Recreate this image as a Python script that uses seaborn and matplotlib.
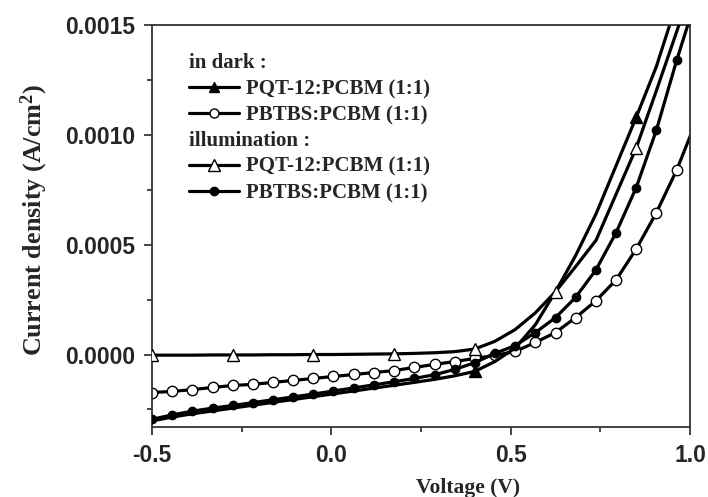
import matplotlib
matplotlib.use("Agg")
import matplotlib.pyplot as plt
from matplotlib.lines import Line2D
from matplotlib.ticker import FixedLocator, FormatStrFormatter
import seaborn as sns

# ---- data ----
voltage = [-0.500, -0.444, -0.388, -0.331, -0.275, -0.219, -0.163, -0.106,
           -0.050, 0.006, 0.063, 0.119, 0.175, 0.231, 0.288, 0.344,
           0.400, 0.456, 0.513, 0.569, 0.625, 0.681, 0.738, 0.794,
           0.850, 0.906, 0.963, 1.019]

dark_pqt = [-0.000302, -0.000285, -0.000270, -0.000257, -0.000244, -0.000231,
            -0.000218, -0.000205, -0.000192, -0.000179, -0.000166, -0.000153,
            -0.000140, -0.000127, -0.000113, -0.000097, -0.000077, -0.000032,
            0.000030, 0.000136, 0.000286, 0.000450, 0.000640, 0.000860,
            0.001080, 0.001310, 0.001600, 0.001900]

dark_pbtbs = [-0.000173, -0.000168, -0.000160, -0.000150, -0.000141, -0.000136,
              -0.000127, -0.000118, -0.000109, -0.000100, -0.000091, -0.000082,
              -0.000073, -0.000059, -0.000045, -0.000032, -0.000018, -0.000004,
              0.000014, 0.000055, 0.000100, 0.000168, 0.000245, 0.000340,
              0.000480, 0.000645, 0.000840, 0.001070]

illum_pqt = [-0.000003, -0.000003, -0.000003, -0.000002, -0.000002, -0.000002,
             -0.000001, -0.000001, 0.000000, 0.000000, 0.000001, 0.000002,
             0.000003, 0.000005, 0.000008, 0.000013, 0.000025, 0.000060,
             0.000114, 0.000190, 0.000286, 0.000400, 0.000520, 0.000730,
             0.000940, 0.001200, 0.001470, 0.001750]

illum_pbtbs = [-0.000295, -0.000275, -0.000258, -0.000244, -0.000232, -0.000219,
               -0.000206, -0.000193, -0.000180, -0.000166, -0.000152, -0.000138,
               -0.000124, -0.000109, -0.000092, -0.000068, -0.000037, 0.000005,
               0.000041, 0.000100, 0.000168, 0.000260, 0.000386, 0.000555,
               0.000760, 0.001020, 0.001340, 0.001630]

x_ticks = [-0.5, 0.0, 0.5, 1.0]
y_ticks = [0.0, 0.0005, 0.0010, 0.0015]
series_label = "PQT-12:PCBM (1:1)"
series_label2 = "PBTBS:PCBM (1:1)"

# ---- style ----
sns.set_style("ticks")
plt.rcParams["font.family"] = ["Liberation Serif", "DejaVu Serif"]
plt.rcParams["mathtext.fontset"] = "custom"
plt.rcParams["mathtext.rm"] = "Liberation Serif:bold"
plt.rcParams["mathtext.it"] = "Liberation Serif:bold"
plt.rcParams["mathtext.bf"] = "Liberation Serif:bold"

fig = plt.figure(figsize=(7.08, 4.97), dpi=100)
ax = fig.add_axes([152 / 708, 1 - 427 / 497, 538 / 708, 402 / 497])

lw = 2.3
common = dict(ax=ax, color="black", linewidth=lw, sort=False, legend=False)

sns.lineplot(x=voltage, y=dark_pbtbs, marker="o", markersize=7.5,
             markerfacecolor="white", markeredgecolor="black",
             markeredgewidth=1.0, zorder=2, **common)
sns.lineplot(x=voltage, y=dark_pqt, marker="^", markersize=8.5,
             markerfacecolor="black", markeredgecolor="black",
             markeredgewidth=1.0, markevery=[16, 24], zorder=2.5, **common)
sns.lineplot(x=voltage, y=illum_pbtbs, marker="o", markersize=6,
             markerfacecolor="black", markeredgecolor="black",
             markeredgewidth=1.0, zorder=3, **common)
sns.lineplot(x=voltage, y=illum_pqt, marker="^", markersize=9,
             markerfacecolor="white", markeredgecolor="black",
             markeredgewidth=1.0, markevery=4, zorder=4, **common)

ax.set_xlim(-0.5, 1.0)
ax.set_ylim(-0.00033, 0.0015)

ax.xaxis.set_major_locator(FixedLocator(x_ticks))
ax.xaxis.set_minor_locator(FixedLocator([-0.25, 0.25, 0.75]))
ax.yaxis.set_major_locator(FixedLocator(y_ticks))
ax.yaxis.set_minor_locator(FixedLocator([-0.00025, 0.00025, 0.00075, 0.00125]))
ax.xaxis.set_major_formatter(FormatStrFormatter("%.1f"))
ax.yaxis.set_major_formatter(FormatStrFormatter("%.4f"))

ax.tick_params(which="major", direction="out", length=6, width=1.2,
               top=False, right=False, pad=6)
ax.tick_params(which="minor", direction="out", length=3.5, width=1.2,
               top=False, right=False)
for lab in ax.get_xticklabels() + ax.get_yticklabels():
    lab.set_fontfamily("Liberation Sans")
    lab.set_fontweight("bold")
    lab.set_fontsize(16.5)

for sp in ax.spines.values():
    sp.set_visible(True)
    sp.set_color("#333333")
    sp.set_linewidth(1.3)

ax.set_xlabel("Voltage (V)", fontsize=15.5, fontweight="bold")
ax.xaxis.set_label_coords(0.587, -0.127)
ax.set_ylabel("Current density (A/cm$^2$)", fontsize=18.8, fontweight="bold")
ax.yaxis.set_label_coords(-0.19, 0.515)

# ---- legends ----
def handle(marker, face, ms):
    return Line2D([], [], color="black", linewidth=lw, marker=marker,
                  markersize=ms, markerfacecolor=face, markeredgecolor="black")

leg_kw = dict(loc="upper left", frameon=False, handlelength=2.4,
              handletextpad=0.35, labelspacing=0.3, borderpad=0,
              borderaxespad=0, alignment="left",
              prop={"family": "Liberation Serif", "weight": "bold", "size": 15},
              title_fontproperties={"family": "Liberation Serif",
                                    "weight": "bold", "size": 15})

leg1 = ax.legend([handle("^", "black", 7), handle("o", "white", 6.5)],
                 [series_label, series_label2], title="in dark :",
                 bbox_to_anchor=(0.068, 0.930), **leg_kw)
ax.add_artist(leg1)
ax.legend([handle("^", "white", 8), handle("o", "black", 6)],
          [series_label, series_label2], title="illumination :",
          bbox_to_anchor=(0.068, 0.737), **leg_kw)

fig.savefig("out.png", dpi=100)
